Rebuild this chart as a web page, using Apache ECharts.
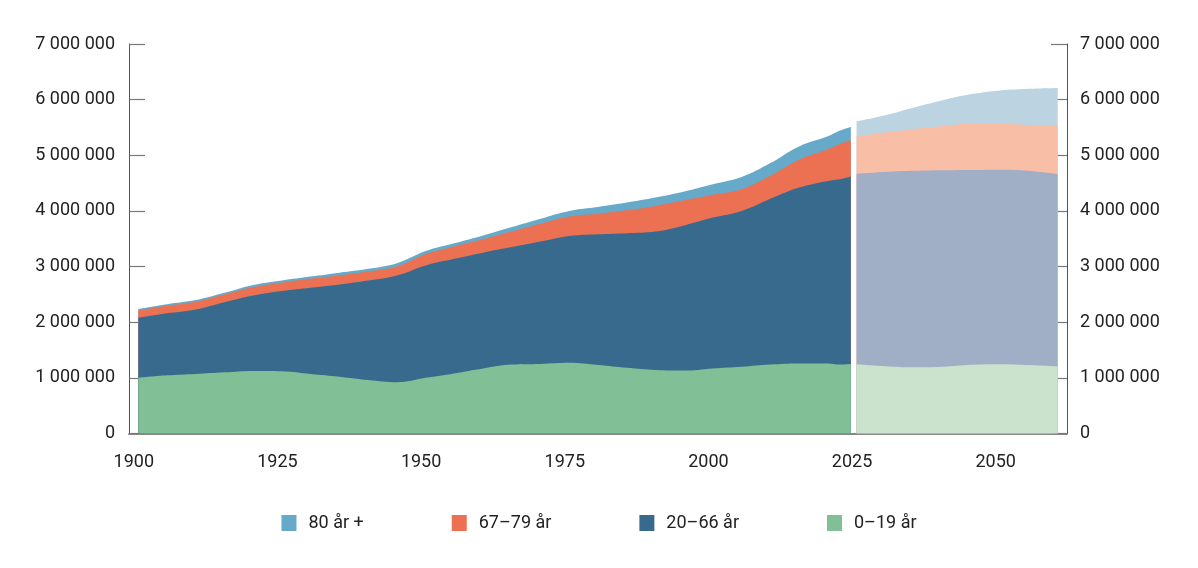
<!DOCTYPE html>
<html><head><meta charset="utf-8">
<script src="https://cdn.jsdelivr.net/npm/echarts@6/dist/echarts.min.js"></script>
<style>html,body{margin:0;padding:0;background:#fff}#c{width:1198px;height:568px}</style>
</head><body><div id="c"></div>
<script>
// Values in thousands of persons
const histYears = [1900,1905,1910,1915,1920,1925,1930,1935,1940,1945,1950,1955,1960,1965,1970,1975,1980,1985,1990,1995,2000,2005,2010,2015,2020,2022,2024];
const hist0_19  = [1000,1045,1070,1100,1125,1120,1070,1020,960,920,1000,1080,1170,1240,1250,1270,1230,1180,1140,1130,1170,1200,1240,1260,1260,1240,1250];
const hist20_66 = [1080,1115,1160,1260,1355,1440,1550,1660,1790,1920,2020,2060,2080,2110,2200,2280,2350,2420,2490,2610,2710,2800,2980,3160,3280,3330,3370];
const hist67_79 = [130,135,140,140,150,150,160,160,160,160,200,220,240,280,320,350,370,410,460,450,410,390,410,500,570,630,650];
const hist80    = [30,30,30,30,40,40,40,50,50,60,60,60,70,80,90,100,120,140,150,160,190,220,230,240,230,240,240];

const projYears = [2025,2030,2035,2040,2045,2050,2055,2060];
const proj0_19  = [1245,1210,1190,1200,1235,1245,1230,1205];
const proj20_66 = [3425,3490,3530,3530,3500,3495,3490,3455];
const proj67_79 = [670,710,750,790,830,825,825,880];
const proj80    = [270,310,390,470,535,600,650,670];

const xTickLabels = [1900,1925,1950,1975,2000,2025,2050];
const groupNames = ['0–19 år','20–66 år','67–79 år','80 år +'];
const histColors = ['#81c096','#386a8e','#ec7152','#66a9c8'];
const projColors = ['#cbe3cd','#a0afc5','#f8bea6','#bcd3e2'];

const FONT = 'Roboto';
const fmt = v => v === 0 ? '0' : String(v).replace(/\B(?=(\d{3})+(?!\d))/g, ' ');

// cumulative stacking (bottom group first)
function cumul(sets, upto){
  return sets[0].map((_,i)=>{ let s=0; for(let k=0;k<=upto;k++) s+=sets[k][i]; return s*1000; });
}
const histSets = [hist0_19, hist20_66, hist67_79, hist80];
const projSets = [proj0_19, proj20_66, proj67_79, proj80];

const series = [];
function addSeries(years, sets, colors, withLine){
  for (let k = 3; k >= 0; k--) {
    const c = cumul(sets, k);
    const s = {type:'line', name:groupNames[k], smooth:0.4, showSymbol:false,
      lineStyle:{width:0}, itemStyle:{color:colors[k]},
      areaStyle:{color:colors[k], opacity:1, origin:0},
      data:years.map((y,i)=>[y, c[i]])};
    if (withLine && k === 0) {
      s.markLine = {silent:true, symbol:'none', label:{show:false},
        lineStyle:{color:'#ffffff', width:4, type:'solid'},
        data:[[{coord:[2024.5, 30000]},{coord:[2024.5, 5650000]}]]};
    }
    series.push(s);
  }
}
addSeries(histYears, histSets, histColors, false);
addSeries(projYears, projSets, projColors, true);

const yAxisCommon = {
  type:'value', min:0, max:7000000, interval:1000000,
  axisLine:{show:true, lineStyle:{color:'#555', width:1}},
  axisTick:{show:true, inside:true, length:16, lineStyle:{color:'#777', width:1.2}},
  splitLine:{show:false},
  axisLabel:{formatter:fmt, color:'#222', fontSize:18, fontFamily:FONT}
};

const chart = echarts.init(document.getElementById('c'));
chart.setOption({
  animation:false,
  backgroundColor:'#fff',
  grid:{left:129, right:131, top:44, bottom:134.5, containLabel:false},
  legend:{
    data:['80 år +','67–79 år','20–66 år','0–19 år'],
    top:509, left:'center', icon:'rect', itemWidth:15, itemHeight:16, itemGap:88,
    textStyle:{color:'#222', fontSize:18, fontFamily:FONT, padding:[0,0,0,7]}
  },
  xAxis:{
    type:'value', min:1898.38, max:2061.62,
    axisLine:{show:true, onZero:false, lineStyle:{color:'#888', width:2}},
    axisTick:{show:false}, splitLine:{show:false},
    axisLabel:{customValues:xTickLabels, color:'#222', fontSize:18, fontFamily:FONT,
      margin:20, padding:[0,9,0,0], formatter:v=>String(Math.round(v))}
  },
  yAxis:[
    Object.assign({}, yAxisCommon, {position:'left', axisLabel:Object.assign({}, yAxisCommon.axisLabel, {margin:14})}),
    Object.assign({}, yAxisCommon, {position:'right', axisLabel:Object.assign({}, yAxisCommon.axisLabel, {margin:13})})
  ],
  series:series
});
</script></body></html>
